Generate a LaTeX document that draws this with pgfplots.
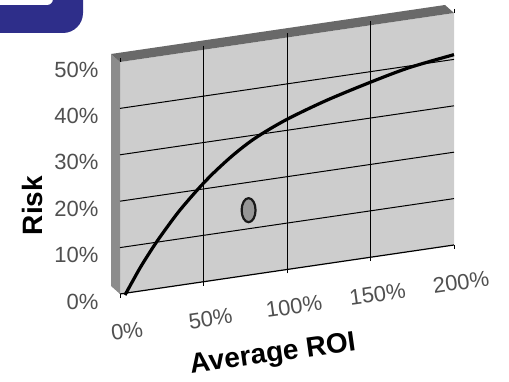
\documentclass[border=0pt]{standalone}
\usepackage{pgfplots}
\usepackage{pgfplotstable}
\pgfplotsset{compat=1.18}
\usepackage{fontspec}
\setmainfont{Liberation Sans}

\definecolor{banner}{RGB}{46,46,138}
\definecolor{wallface}{RGB}{205,205,205}
\definecolor{wallside}{RGB}{140,140,140}
\definecolor{walltop}{RGB}{105,105,105}
\definecolor{ticktext}{RGB}{80,80,80}
\definecolor{markfill}{RGB}{150,150,150}

% risk (%) against average ROI (%)
\pgfplotstableread{
roi risk
0    0
5    3.0
10   5.9
18   10.0
25   13.2
33   16.6
44   20.6
53   23.5
65   26.8
78   29.7
96   32.6
120  35.5
147  38.1
170  40.0
197  41.4
}\riskcurve

\begin{document}
\begin{tikzpicture}
% header banner corner
\fill[banner, rounded corners=20pt] (-40pt,349pt) rectangle (83pt,430pt);
\fill[white, rounded corners=6pt] (-40pt,377pt) rectangle (53pt,430pt);

\begin{axis}[
  at={(120pt,88pt)}, anchor=origin,
  x={(1.67pt,0.245pt)}, y={(0pt,4.64pt)},
  xmin=0, xmax=200, ymin=0, ymax=50,
  set layers=standard,
  clip=false,
  axis line style={draw=none},
  xtick={0,50,100,150,200},
  xticklabels={0\%,50\%,100\%,150\%,200\%},
  ytick={0,10,20,30,40,50},
  yticklabels={0\%,10\%,20\%,30\%,40\%,50\%},
  tick align=outside,
  major tick length=4pt,
  xtick style={black, line width=0.9pt},
  ytick style={draw=none},
  ticklabel style={font=\fontsize{22}{22}\selectfont, text=ticktext},
  xticklabel style={anchor=center, xshift=7pt, yshift=-33pt, rotate=8},
  yticklabel style={anchor=east, xshift=-14pt, yshift=-7pt},
]
\begin{pgfonlayer}{axis background}
  % back wall and its visible thickness
  \fill[wallface] (axis cs:0,0) -- (axis cs:200,0) -- (axis cs:200,50) -- (axis cs:0,50) -- cycle;
  \fill[wallside] (axis cs:0,0) -- ++(-9pt,8pt) -- ++(0pt,232pt) -- (axis cs:0,50) -- cycle;
  \fill[walltop] (axis cs:0,50) -- ++(-9pt,8pt) -- ++(334pt,49pt) -- (axis cs:200,50) -- cycle;
  % grid
  \draw[black, line width=1pt] (axis cs:0,10) -- (axis cs:200,10);
  \draw[black, line width=1pt] (axis cs:0,20) -- (axis cs:200,20);
  \draw[black, line width=1pt] (axis cs:0,30) -- (axis cs:200,30);
  \draw[black, line width=1pt] (axis cs:0,40) -- (axis cs:200,40);
  \draw[black, line width=1pt] (axis cs:50,0) -- (axis cs:50,50);
  \draw[black, line width=1pt] (axis cs:100,0) -- (axis cs:100,50);
  \draw[black, line width=1pt] (axis cs:150,0) -- (axis cs:150,50);
  \draw[black, line width=1.2pt] (axis cs:0,0) -- (axis cs:200,0);
\end{pgfonlayer}

\addplot[black, line width=3.2pt, smooth, shift={(5pt,-1pt)}] table[x=roi, y=risk] {\riskcurve};

\addplot[only marks, mark=*, mark size=12pt,
  mark options={xscale=0.58, fill=markfill, draw=black!90, line width=2.2pt}]
  coordinates {(77,14)};
\end{axis}

\node[rotate=90, font=\bfseries\fontsize{28}{28}\selectfont] at (32.5pt,176.5pt) {Risk};
\node[rotate=8, font=\bfseries\fontsize{28}{28}\selectfont] at (273pt,27pt) {Average ROI};

% page frame
\pgfresetboundingbox
\useasboundingbox (0pt,0pt) rectangle (509pt,382pt);
\end{tikzpicture}
\end{document}
